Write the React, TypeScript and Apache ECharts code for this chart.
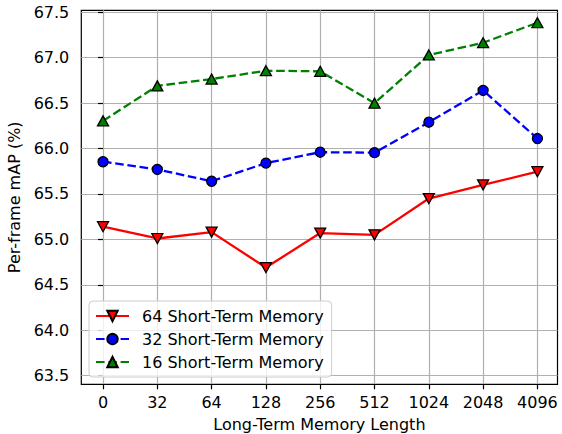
import React, { useEffect, useRef } from "react";
import * as echarts from "echarts";

const xLabels = ["0", "32", "64", "128", "256", "512", "1024", "2048", "4096"];
const yTicks = [63.5, 64.0, 64.5, 65.0, 65.5, 66.0, 66.5, 67.0, 67.5];
const stm64 = [65.14, 65.01, 65.08, 64.69, 65.07, 65.05, 65.45, 65.6, 65.745];
const stm32 = [65.855, 65.77, 65.64, 65.84, 65.96, 65.955, 66.29, 66.64, 66.11];
const stm16 = [66.305, 66.69, 66.765, 66.857, 66.85, 66.5, 67.03, 67.165, 67.385];
const seriesNames = ["64 Short-Term Memory", "32 Short-Term Memory", "16 Short-Term Memory"];

const FONT = "DejaVu Sans";
const FS = 16;

export default function App() {
  const ref = useRef<HTMLDivElement>(null);
  useEffect(() => {
    if (!ref.current) return;
    const chart = echarts.init(ref.current, undefined, {
      renderer: "svg",
      width: 562,
      height: 434,
    });
    const toPairs = (arr: number[]) => arr.map((v, i) => [i, v]);
    const dashed = [8.6, 3.7];
    chart.setOption({
      animation: false,
      backgroundColor: "#ffffff",
      textStyle: { fontFamily: FONT },
      grid: {
        left: 81.3,
        right: 4.5,
        top: 10.3,
        bottom: 49.7,
        containLabel: false,
        outerBoundsMode: "none",
        show: true,
        borderColor: "#000",
        borderWidth: 1.2,
        backgroundColor: "transparent",
      },
      xAxis: {
        type: "value",
        min: -0.4,
        max: 8.37,
        name: "Long-Term Memory Length",
        nameLocation: "middle",
        nameGap: 32,
        nameTextStyle: { fontFamily: FONT, fontSize: FS, color: "#000" },
        axisLine: { show: false },
        axisTick: {
          show: true,
          length: 5,
          inside: false,
          customValues: xLabels.map((_, i) => i),
          lineStyle: { color: "#000", width: 1.2 },
        },
        axisLabel: {
          customValues: xLabels.map((_, i) => i),
          formatter: (v: number) => xLabels[Math.round(v)] ?? "",
          fontFamily: FONT,
          fontSize: FS,
          color: "#000",
          margin: 10,
        },
        splitLine: { show: true, lineStyle: { color: "#b0b0b0", width: 1.2 } },
      },
      yAxis: {
        type: "value",
        min: 63.405,
        max: 67.522,
        name: "Per-frame mAP (%)",
        nameLocation: "middle",
        nameGap: 52,
        nameTextStyle: { fontFamily: FONT, fontSize: FS, color: "#000" },
        axisLine: { show: false },
        axisTick: {
          show: true,
          length: 5,
          inside: false,
          customValues: yTicks,
          lineStyle: { color: "#000", width: 1.2 },
        },
        axisLabel: {
          customValues: yTicks,
          formatter: (v: number) => v.toFixed(1),
          fontFamily: FONT,
          fontSize: FS,
          color: "#000",
          margin: 12,
        },
        splitLine: { show: true, lineStyle: { color: "#b0b0b0", width: 1.2 } },
      },
      legend: {
        orient: "vertical",
        left: 89,
        top: 301,
        padding: [6, 8, 6, 6],
        itemWidth: 33,
        itemHeight: 13,
        itemGap: 5,
        backgroundColor: "rgba(255,255,255,0.8)",
        borderColor: "#cccccc",
        borderWidth: 1,
        borderRadius: 4,
        textStyle: {
          fontFamily: FONT,
          fontSize: FS,
          lineHeight: 18,
          color: "#000",
          padding: [0, 0, 0, 8],
        },
        data: seriesNames,
      },
      series: [
        {
          name: seriesNames[0],
          type: "line",
          data: toPairs(stm64),
          symbol: "triangle",
          symbolRotate: 180,
          symbolSize: [11, 10],
          lineStyle: { color: "#ff0000", width: 2.3, type: "solid" },
          itemStyle: { color: "#ff0000", borderColor: "#000", borderWidth: 1.3 },
          z: 3,
        },
        {
          name: seriesNames[1],
          type: "line",
          data: toPairs(stm32),
          symbol: "circle",
          symbolSize: 10,
          lineStyle: { color: "#0000ff", width: 2.3, type: dashed },
          itemStyle: { color: "#0000ff", borderColor: "#000", borderWidth: 1.3 },
          z: 4,
        },
        {
          name: seriesNames[2],
          type: "line",
          data: toPairs(stm16),
          symbol: "triangle",
          symbolSize: [11, 10],
          lineStyle: { color: "#008000", width: 2.3, type: dashed },
          itemStyle: { color: "#008000", borderColor: "#000", borderWidth: 1.3 },
          z: 5,
        },
      ],
    });
    return () => chart.dispose();
  }, []);
  return (
    <div
      ref={ref}
      style={{ position: "fixed", left: 0, top: 0, width: 562, height: 434 }}
    />
  );
}
